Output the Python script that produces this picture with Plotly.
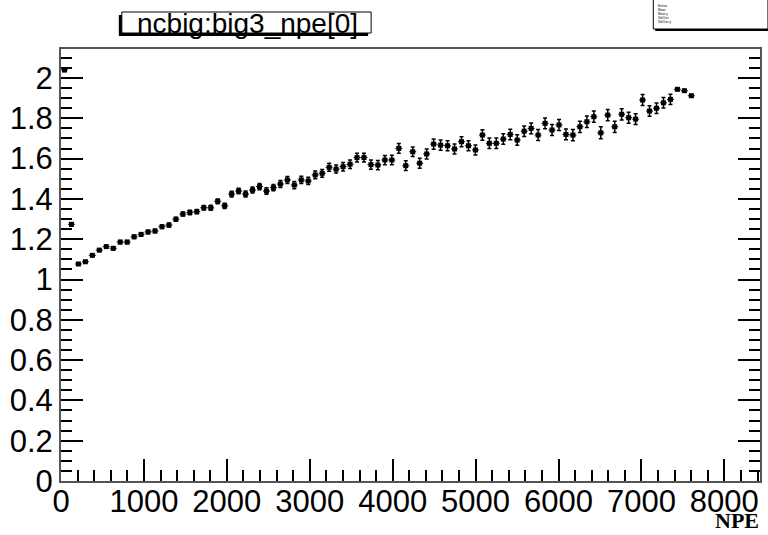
import numpy as np
import plotly.graph_objects as go

# Profile binning: 91 filled bins of width 84 NPE starting at 0
bin_lo = 0.0
bin_width = 84.0
mean_ratio = [
    2.040, 1.274, 1.077, 1.088, 1.120, 1.146, 1.163, 1.155, 1.186, 1.186,
    1.212, 1.224, 1.236, 1.241, 1.262, 1.270, 1.299, 1.325, 1.333, 1.337,
    1.356, 1.356, 1.388, 1.366, 1.424, 1.439, 1.424, 1.444, 1.461, 1.439,
    1.456, 1.474, 1.494, 1.469, 1.494, 1.489, 1.519, 1.527, 1.557, 1.548,
    1.560, 1.572, 1.605, 1.605, 1.570, 1.568, 1.593, 1.593, 1.651, 1.565,
    1.634, 1.577, 1.623, 1.672, 1.667, 1.664, 1.648, 1.684, 1.664, 1.643,
    1.717, 1.676, 1.676, 1.697, 1.720, 1.692, 1.736, 1.750, 1.717, 1.775,
    1.742, 1.767, 1.720, 1.717, 1.758, 1.783, 1.808, 1.728, 1.816, 1.758,
    1.820, 1.803, 1.796, 1.891, 1.836, 1.850, 1.877, 1.894, 1.944, 1.937,
    1.912,
]
ratio_err = [
    0.008, 0.008, 0.006, 0.006, 0.006, 0.007, 0.007, 0.007, 0.008, 0.008,
    0.008, 0.008, 0.009, 0.009, 0.009, 0.010, 0.010, 0.010, 0.011, 0.011,
    0.011, 0.012, 0.012, 0.013, 0.014, 0.014, 0.015, 0.015, 0.016, 0.016,
    0.016, 0.017, 0.017, 0.018, 0.018, 0.018, 0.019, 0.019, 0.020, 0.020,
    0.021, 0.021, 0.022, 0.022, 0.023, 0.023, 0.023, 0.024, 0.024, 0.024,
    0.024, 0.025, 0.025, 0.025, 0.025, 0.025, 0.025, 0.025, 0.025, 0.025,
    0.026, 0.026, 0.026, 0.026, 0.026, 0.026, 0.026, 0.027, 0.027, 0.027,
    0.027, 0.027, 0.027, 0.028, 0.028, 0.028, 0.028, 0.030, 0.028, 0.028,
    0.028, 0.027, 0.027, 0.027, 0.026, 0.026, 0.026, 0.025, 0.006, 0.006,
    0.006,
]
x_ticks = [0, 1000, 2000, 3000, 4000, 5000, 6000, 7000, 8000]
hist_title = "ncbig:big3_npe[0]"
x_title = "NPE"
stat_rows = ["Entries", "Mean", "Mean y", "Std Dev", "Std Dev y"]

x_centers = bin_lo + bin_width * (np.arange(len(mean_ratio)) + 0.5)

W, H = 768, 535
ML, MR, MT, MB = 61, 6, 49, 54
PW, PH = W - ML - MR, H - MT - MB


def px(X):
    return (X - ML) / PW


def py(Y):
    return (H - MB - Y) / PH


fig = go.Figure()
fig.add_trace(go.Scatter(
    x=x_centers, y=mean_ratio, mode="markers",
    marker=dict(symbol="square", size=5, color="black"),
    error_x=dict(type="constant", value=bin_width / 2, width=0,
                 thickness=1, color="black"),
    error_y=dict(type="data", array=ratio_err, width=2,
                 thickness=1.5, color="black"),
    showlegend=False,
))

axis_font = dict(family="Liberation Sans, Arial, sans-serif", size=31, color="black")
frame = "#555555"

fig.update_xaxes(
    range=[0, 8430], tickvals=x_ticks, ticks="inside", ticklen=22,
    tickwidth=1.5, tickcolor="black", ticklabelstandoff=-8,
    minor=dict(dtick=200, ticks="inside", ticklen=11, tickwidth=1.5, tickcolor="black"),
    showline=True, linecolor=frame, linewidth=2, mirror=True,
    showgrid=False, zeroline=False, tickfont=axis_font,
)
fig.update_yaxes(
    range=[0, 2.144], dtick=0.2, tick0=0, ticks="inside", ticklen=22,
    tickwidth=1.5, tickcolor="black",
    minor=dict(dtick=0.05, ticks="inside", ticklen=11, tickwidth=1.5, tickcolor="black"),
    showline=True, linecolor=frame, linewidth=2, mirror="ticks",
    showgrid=False, zeroline=False, tickfont=axis_font,
)

shapes = []
# title box with drop shadow
tx0, tx1, ty0, ty1 = 122, 372, 12, 33
shapes.append(dict(type="rect", xref="paper", yref="paper",
                   x0=px(tx0 - 3), x1=px(tx1 - 3), y0=py(ty1 + 3), y1=py(ty0 + 3),
                   fillcolor="black", line=dict(width=0)))
shapes.append(dict(type="rect", xref="paper", yref="paper",
                   x0=px(tx0), x1=px(tx1), y0=py(ty1), y1=py(ty0),
                   fillcolor="white", line=dict(color="black", width=1)))
# statistics box with drop shadow
sx0, sx1, sy0, sy1 = 655, 770, -2, 29
shapes.append(dict(type="rect", xref="paper", yref="paper",
                   x0=px(sx0 + 2), x1=px(sx1 + 2), y0=py(sy1 + 2), y1=py(sy0 + 2),
                   fillcolor="black", line=dict(width=0)))
shapes.append(dict(type="rect", xref="paper", yref="paper",
                   x0=px(sx0), x1=px(sx1), y0=py(sy1), y1=py(sy0),
                   fillcolor="white", line=dict(color="black", width=1)))

annotations = [
    dict(text=hist_title, xref="paper", yref="paper",
         x=px((tx0 + tx1) / 2 + 1), y=py((ty0 + ty1) / 2 + 0.5),
         xanchor="center", yanchor="middle", showarrow=False,
         font=dict(family="Liberation Sans, Arial, sans-serif", size=28, color="black")),
    dict(text="<b>" + x_title + "</b>", xref="paper", yref="paper",
         x=1.0, y=py(520), xanchor="right", yanchor="middle", showarrow=False,
         borderpad=0,
         font=dict(family="Liberation Serif, Times New Roman, serif", size=22, color="black")),
    # statistics box entries, one block of tiny lines
    dict(text="<br>".join(stat_rows), xref="paper", yref="paper",
         x=px(sx0 + 3), y=py(2), xanchor="left", yanchor="top", align="left",
         showarrow=False,
         font=dict(family="Liberation Sans, Arial, sans-serif", size=3, color="black")),
]

fig.update_layout(
    width=W, height=H,
    margin=dict(l=ML, r=MR, t=MT, b=MB, pad=0),
    paper_bgcolor="white", plot_bgcolor="white",
    shapes=shapes, annotations=annotations,
)

fig.write_html("out.html")
